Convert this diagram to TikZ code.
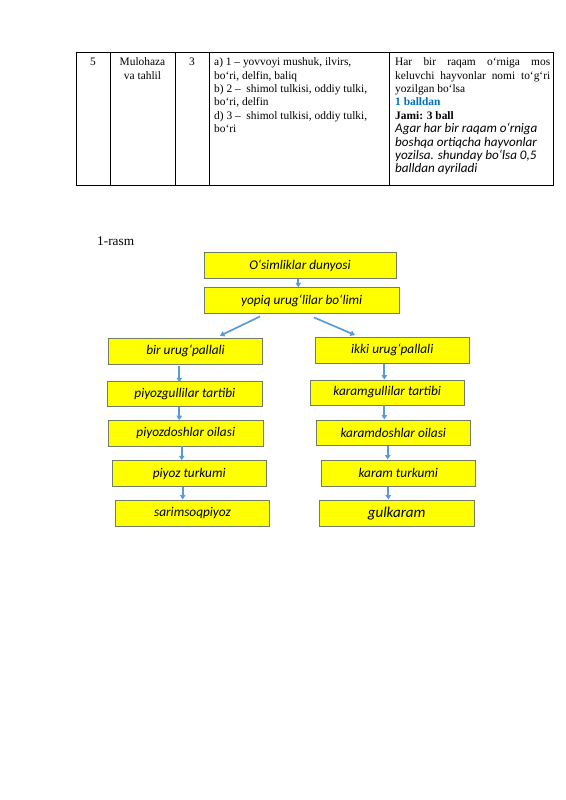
\documentclass[tikz,border=0pt]{standalone}
\usepackage{fontspec}
\setmainfont{Liberation Serif}
\newfontfamily\boxfont{Carlito}
\usepackage{xcolor}
\usetikzlibrary{arrows.meta,calc}
\definecolor{boxyellow}{RGB}{255,255,0}
\definecolor{boxedge}{RGB}{112,124,100}
\definecolor{linkblue}{RGB}{91,155,213}
\definecolor{markblue}{RGB}{0,112,192}

\begin{document}
\begin{tikzpicture}[x=1pt,y=-1pt,
    taxon/.style={draw=boxedge,line width=0.9pt,fill=boxyellow,minimum width=154.5pt,minimum height=25.6pt,inner sep=0pt,font=\boxfont\itshape\fontsize{13.3}{14}\selectfont},
    link/.style={draw=linkblue,line width=1.7pt,-{Triangle[length=4.5pt,width=5.5pt]}},
    cell/.style={anchor=north west,inner sep=0pt,font=\fontsize{11.4}{13.4}\selectfont}]
            \useasboundingbox (0,0) rectangle (565,800);

            % table row
            \draw[line width=0.6pt] (76,52) rectangle (553,185);
            \foreach \colx in {110,175,209,389}
                \draw[line width=0.6pt] (\colx,52) -- (\colx,185);
            \node[cell,anchor=north] (num) at (93,57.5) {5};
            \node[cell,anchor=north,align=center] (topic) at (142.5,57.5) {Mulohaza\\va tahlil};
            \node[cell,anchor=north] (score) at (192,57.5) {3};
            \node[cell,text width=172pt,align=flush left] (answer) at (214,57.5) {a) 1 -- yovvoyi mushuk, ilvirs,\\bo‘ri, delfin, baliq\\b) 2 --~ shimol tulkisi, oddiy tulki,\\bo‘ri, delfin\\d) 3 --~ shimol tulkisi, oddiy tulki,\\bo‘ri};
            \node[cell,text width=155pt,align=justify] (rule) at (395,57.5) {Har bir raqam o‘rniga mos\linebreak keluvchi hayvonlar nomi to‘g‘ri\linebreak yozilgan bo‘lsa\\
                {\bfseries\color{markblue}1 balldan}\\
                {\bfseries Jami: 3 ball}\\
                {\boxfont\itshape\fontsize{13.1}{13.4}\selectfont Agar har bir raqam o‘rniga\\boshqa ortiqcha hayvonlar\\yozilsa. shunday bo‘lsa 0,5\\balldan ayriladi}};

            % caption
            \node[anchor=west,inner sep=0pt,font=\fontsize{13.3}{14}\selectfont] (caption) at (97,241) {1-rasm};

            % top of the tree
            \node[taxon,minimum width=192pt] (world) at (300,265.5) {O‘simliklar dunyosi};
            \node[taxon,minimum width=195pt] (closed) at (301.7,300.5) {yopiq urug‘lilar bo‘limi};

            % left branch
            \node[taxon] (mono) at (185.5,351.3) {bir urug‘pallali};
            \node[taxon,minimum height=25pt] (monoorder) at (184.8,394.2) {piyozgullilar tartibi};
            \node[taxon,minimum height=25.3pt] (monofam) at (185.8,433.3) {piyozdoshlar oilasi};
            \node[taxon,minimum height=26pt] (monogen) at (189.2,473.7) {piyoz turkumi};
            \node[taxon,minimum height=26.7pt] (monosp) at (192.5,513.3) {sarimsoqpiyoz};

            % right branch
            \node[taxon] (di) at (392.2,350.3) {ikki urug‘pallali};
            \node[taxon,minimum height=25pt] (diorder) at (387.2,392.5) {karamgullilar tartibi};
            \node[taxon,minimum height=25.7pt] (difam) at (393.3,432.8) {karamdoshlar oilasi};
            \node[taxon,minimum height=26.7pt] (digen) at (398.3,473.3) {karam turkumi};
            \node[taxon,minimum height=26.7pt,font=\boxfont\itshape\fontsize{15}{17}\selectfont] (disp) at (396.7,513.3) {gulkaram};

            % arrows
            \draw[link] ([xshift=-1.7pt]world.south) -- ([xshift=-1.7pt]world.south |- closed.north);
            \draw[link] ([xshift=-41.7pt,yshift=-2.7pt]closed.south) -- ([xshift=34.5pt,yshift=2.3pt]mono.north);
            \draw[link] ([xshift=12.3pt,yshift=-3.7pt]closed.south) -- ([xshift=-37.2pt,yshift=2pt]di.north);
            \draw[link] ([xshift=-6.2pt,yshift=-1pt]mono.south) -- ([xshift=-6.2pt,yshift=-1pt]mono.south |- monoorder.north);
            \draw[link] ([xshift=-5.5pt]monoorder.south) -- ([xshift=-5.5pt]monoorder.south |- monofam.north);
            \draw[link] ([xshift=-4.1pt]monofam.south) -- ([xshift=-4.1pt]monofam.south |- monogen.north);
            \draw[link] ([xshift=-6.5pt]monogen.south) -- ([xshift=-6.5pt]monogen.south |- monosp.north);
            \draw[link] ([xshift=-7.9pt]di.south) -- ([xshift=-7.9pt]di.south |- diorder.north);
            \draw[link] ([xshift=-2.9pt]diorder.south) -- ([xshift=-2.9pt]diorder.south |- difam.north);
            \draw[link] ([xshift=-5.6pt]difam.south) -- ([xshift=-5.6pt]difam.south |- digen.north);
            \draw[link] ([xshift=-10pt]digen.south) -- ([xshift=-10pt]digen.south |- disp.north);
        \end{tikzpicture}
\end{document}
